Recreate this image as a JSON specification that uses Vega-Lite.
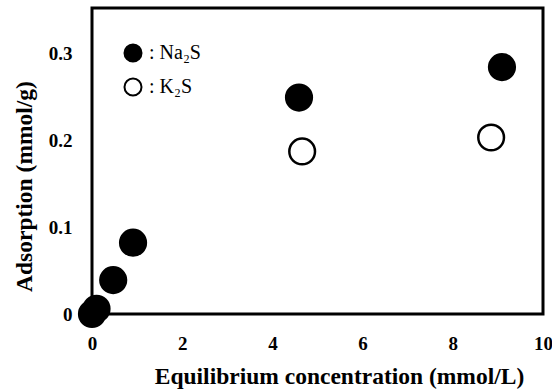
{
  "$schema": "https://vega.github.io/schema/vega-lite/v6.json",
  "width": 451,
  "height": 306,
  "autosize": "none",
  "padding": {"left": 92, "top": 8, "right": 9, "bottom": 76},
  "background": "white",
  "config": {
    "view": {"stroke": "black", "strokeWidth": 3},
    "font": "Liberation Serif"
  },
  "data": {
    "values": [
      {"c": 0.0, "q": 0.0, "s": "Na₂S"},
      {"c": 0.1, "q": 0.006, "s": "Na₂S"},
      {"c": 0.47, "q": 0.039, "s": "Na₂S"},
      {"c": 0.91, "q": 0.082, "s": "Na₂S"},
      {"c": 4.59, "q": 0.249, "s": "Na₂S"},
      {"c": 9.09, "q": 0.284, "s": "Na₂S"},
      {"c": 4.66, "q": 0.187, "s": "K₂S"},
      {"c": 8.85, "q": 0.203, "s": "K₂S"}
    ]
  },
  "mark": {"type": "point", "shape": "circle", "size": 660, "filled": false, "stroke": "black", "strokeWidth": 2.5, "opacity": 1, "clip": false},
  "encoding": {
    "x": {
      "field": "c", "type": "quantitative",
      "scale": {"domain": [0, 10], "nice": false, "zero": false},
      "axis": {
        "title": "Equilibrium concentration (mmol/L)",
        "values": [0, 2, 4, 6, 8, 10],
        "grid": false, "domain": false, "ticks": false,
        "labelPadding": 20, "labelFont": "Liberation Serif", "labelFontWeight": "bold", "labelFontSize": 19, "labelColor": "black",
        "labelFlush": false, "labelOverlap": false,
        "titleFont": "Liberation Serif", "titleFontWeight": "bold", "titleFontSize": 23.5, "titleColor": "black",
        "titlePadding": 11, "titleX": 247
      }
    },
    "y": {
      "field": "q", "type": "quantitative",
      "scale": {"domain": [0, 0.352], "nice": false},
      "axis": {
        "title": "Adsorption (mmol/g)",
        "values": [0, 0.1, 0.2, 0.3],
        "labelExpr": "datum.value == 0 ? '0' : format(datum.value, '.1f')",
        "grid": false, "domain": false, "ticks": false,
        "labelPadding": 20, "labelFont": "Liberation Serif", "labelFontWeight": "bold", "labelFontSize": 19, "labelColor": "black",
        "labelFlush": false, "labelOverlap": false,
        "titleFont": "Liberation Serif", "titleFontWeight": "bold", "titleFontSize": 23.5, "titleColor": "black",
        "titlePadding": 12, "titleY": 178
      }
    },
    "fill": {
      "field": "s", "type": "nominal",
      "scale": {"domain": ["Na₂S", "K₂S"], "range": ["black", "white"]},
      "legend": {
        "title": null,
        "orient": "none", "legendX": 31, "legendY": 35,
        "symbolType": "circle", "symbolSize": 290, "symbolStrokeColor": "black", "symbolStrokeWidth": 2,
        "labelExpr": "': ' + datum.label",
        "labelFont": "Liberation Serif", "labelFontSize": 20, "labelColor": "black",
        "labelOffset": 6, "rowPadding": 8
      }
    }
  }
}
